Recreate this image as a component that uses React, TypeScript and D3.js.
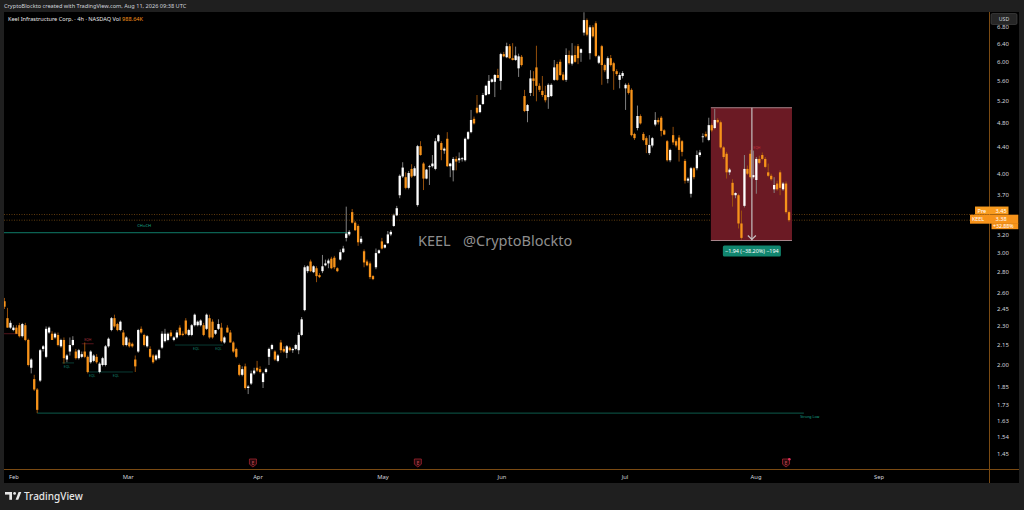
import React from 'react';
import * as d3 from 'd3';

// ---- Data (4h candles, KEEL) ----
const opens = [
  2.52,2.37,2.29,2.27,2.29,2.31,2.22,2.31,2.19,1.98,1.90,1.83,1.89,2.12,2.06,2.25,2.24,2.21,2.23,2.14,
  2.19,2.04,2.10,2.15,2.10,2.05,2.06,2.10,2.06,2.02,2.03,2.06,1.95,2.00,2.00,2.14,2.27,2.37,2.32,2.27,
  2.25,2.15,2.17,2.16,2.04,2.10,2.28,2.23,2.14,2.12,2.07,2.04,2.05,2.13,2.18,2.19,2.25,2.19,2.21,2.29,
  2.24,2.35,2.23,2.23,2.31,2.31,2.31,2.31,2.28,2.37,2.34,2.24,2.28,2.29,2.17,2.29,2.25,2.17,2.12,2.00,
  1.93,1.99,1.84,
  1.87,1.94,1.98,1.97,1.88,1.95,2.06,2.12,2.10,2.03,2.17,2.12,2.09,2.13,2.11,2.12,2.11,2.23,2.44,2.81,
  2.91,2.80,2.84,2.77,2.81,2.87,2.89,2.94,2.95,2.84,2.93,3.01,3.17,3.21,3.48,3.35,3.31,3.12,3.02,2.91,
  2.89,2.76,2.85,3.00,3.13,3.06,3.11,3.21,3.31,3.44,
  3.70,3.96,3.95,3.80,4.07,3.97,3.57,4.42,4.15,3.93,4.10,4.11,4.07,4.50,4.47,4.35,4.54,4.11,4.05,4.22,
  4.20,4.22,4.20,4.54,4.65,4.88,5.08,5.00,5.15,5.32,5.34,5.58,5.58,5.72,5.60,6.17,6.10,6.35,6.08,6.04,
  5.86,6.11,5.30,5.02,5.36,5.65,5.88,5.50,5.40,5.32,5.28,5.30,5.62,5.95,
  6.00,5.73,5.62,6.15,5.96,6.15,6.35,6.20,6.67,6.98,6.19,6.80,6.90,5.98,6.35,5.93,5.64,6.08,5.97,5.80,
  5.62,5.70,5.45,5.52,5.42,4.62,4.72,4.93,4.62,4.55,4.31,4.43,4.78,4.86,4.90,4.68,4.50,4.20,4.60,4.50,
  4.56,4.50,4.19,3.90,3.72,4.08,4.08,4.28,4.57,4.62,4.52,4.77,4.72,4.86,
  4.82,4.40,4.30,4.02,3.87,3.70,3.70,3.34,3.56,4.07,4.30,3.95,3.91,4.22,4.28,4.22,4.02,3.97,3.78,3.86,
  4.02,3.78,3.86,3.48,
];
const highs = [
  2.55,2.46,2.35,2.31,2.31,2.33,2.33,2.33,2.20,2.05,1.93,1.84,2.12,2.15,2.30,2.30,2.26,2.25,2.25,2.20,
  2.21,2.08,2.21,2.22,2.12,2.12,2.10,2.17,2.07,2.11,2.08,2.08,2.02,2.06,2.15,2.21,2.38,2.40,2.33,2.35,
  2.27,2.22,2.20,2.17,2.07,2.28,2.30,2.24,2.23,2.14,2.08,2.08,2.12,2.26,2.28,2.25,2.27,2.22,2.27,2.31,
  2.26,2.37,2.28,2.32,2.41,2.35,2.36,2.33,2.41,2.40,2.36,2.27,2.36,2.33,2.22,2.31,2.27,2.18,2.13,2.01,
  1.99,2.01,1.86,
  1.96,1.98,2.03,1.99,1.95,1.98,2.13,2.16,2.11,2.08,2.19,2.14,2.15,2.14,2.13,2.16,2.25,2.38,2.87,2.87,
  2.93,2.87,2.86,2.79,2.98,2.93,2.94,2.96,2.97,2.85,3.04,3.08,3.55,3.26,3.52,3.37,3.33,3.19,3.04,2.93,
  2.91,2.77,3.05,3.04,3.17,3.10,3.25,3.26,3.46,3.56,
  3.99,4.17,4.02,4.04,4.14,4.11,4.44,4.50,4.17,4.07,4.13,4.28,4.55,4.62,4.50,4.40,4.65,4.16,4.25,4.26,
  4.32,4.25,4.56,4.67,5.04,4.92,5.32,5.15,5.36,5.52,5.72,5.65,5.74,5.85,6.20,6.22,6.43,6.40,6.42,6.34,
  6.18,6.15,5.42,5.15,5.82,5.80,6.36,5.55,5.70,5.50,5.55,5.55,6.04,6.00,
  6.05,5.78,6.30,6.25,6.42,6.36,6.40,6.30,7.18,7.02,6.85,6.85,6.95,6.15,6.38,5.96,6.12,6.15,6.00,5.84,
  5.77,5.80,5.55,5.56,5.45,4.64,5.12,4.96,4.65,4.58,4.60,4.57,5.00,4.90,4.93,4.70,4.52,4.38,4.74,4.53,
  4.60,4.52,4.22,3.95,4.10,4.10,4.35,4.36,4.63,4.66,4.90,4.80,5.06,4.89,
  4.85,4.42,4.33,4.08,3.92,3.74,3.72,3.50,4.28,4.12,4.36,4.35,4.25,4.27,4.32,4.25,4.15,4.00,3.95,3.90,
  4.05,3.88,3.89,3.50,
];
const lows = [
  2.45,2.29,2.28,2.26,2.24,2.21,2.21,2.18,1.99,1.94,1.82,1.68,1.88,2.10,2.05,2.24,2.19,2.20,2.14,2.13,
  2.01,2.02,2.07,2.14,2.04,2.04,2.05,2.05,1.94,2.01,2.02,2.01,1.94,1.99,1.99,2.13,2.26,2.29,2.26,2.26,
  2.14,2.14,2.13,2.13,1.95,2.09,2.24,2.14,2.13,2.05,2.01,2.03,2.04,2.12,2.17,2.18,2.21,2.18,2.20,2.22,
  2.22,2.23,2.22,2.22,2.30,2.30,2.30,2.22,2.27,2.20,2.20,2.23,2.27,2.17,2.16,2.25,2.17,2.09,2.05,1.92,
  1.92,1.83,1.80,
  1.86,1.93,1.95,1.94,1.84,1.94,2.00,2.11,2.03,2.02,2.09,2.09,2.05,2.10,2.09,2.11,2.08,2.22,2.43,2.79,
  2.80,2.79,2.70,2.74,2.79,2.86,2.84,2.83,2.83,2.80,2.92,3.00,3.13,3.19,3.34,3.25,3.08,3.10,2.85,2.86,
  2.73,2.72,2.83,2.99,3.04,3.05,3.10,3.19,3.30,3.43,
  3.66,3.94,3.78,3.78,3.94,3.96,3.55,4.27,3.77,3.92,3.84,4.09,4.05,4.48,4.20,4.30,4.10,3.95,3.89,4.05,
  4.16,4.18,4.18,4.52,4.63,4.78,4.97,4.98,5.13,5.30,5.32,5.56,5.28,5.66,5.42,6.10,6.08,6.06,6.03,6.02,
  5.68,5.90,5.00,4.82,5.30,5.30,5.20,5.38,5.28,5.18,5.06,5.28,5.60,5.60,
  5.70,5.60,5.58,5.94,5.92,5.98,5.95,6.00,6.60,6.58,6.05,6.55,6.10,5.95,5.52,5.78,5.55,5.90,5.42,5.70,
  5.45,5.65,5.04,5.33,4.58,4.52,4.68,4.78,4.50,4.31,4.28,4.40,4.75,4.78,4.58,4.60,4.18,4.17,4.44,4.40,
  4.18,4.26,3.86,3.87,3.67,3.92,4.05,4.25,4.48,4.56,4.50,4.65,4.70,4.80,
  4.38,4.22,3.93,3.98,3.55,3.66,3.28,3.15,3.54,3.98,3.93,3.93,3.72,4.14,4.20,4.08,3.95,3.90,3.73,3.76,
  3.70,3.76,3.46,3.36,
];
const closes = [
  2.47,2.29,2.33,2.29,2.24,2.22,2.32,2.19,2.00,2.04,1.83,1.70,2.11,2.14,2.28,2.29,2.19,2.24,2.15,2.19,
  2.05,2.07,2.15,2.19,2.05,2.11,2.08,2.06,1.95,2.10,2.07,2.02,2.01,2.05,2.14,2.20,2.37,2.30,2.27,2.34,
  2.15,2.21,2.14,2.14,1.99,2.27,2.25,2.15,2.22,2.06,2.02,2.07,2.11,2.24,2.24,2.24,2.22,2.21,2.25,2.23,
  2.23,2.24,2.27,2.31,2.40,2.34,2.35,2.23,2.40,2.21,2.21,2.27,2.32,2.18,2.21,2.25,2.17,2.10,2.06,1.93,
  1.97,1.84,1.85,
  1.94,1.96,1.96,1.95,1.94,1.97,2.12,2.15,2.04,2.07,2.11,2.10,2.14,2.11,2.12,2.15,2.23,2.36,2.85,2.86,
  2.81,2.86,2.76,2.75,2.86,2.89,2.92,2.84,2.85,2.81,3.01,3.05,3.22,3.24,3.35,3.26,3.12,3.16,2.90,2.87,
  2.75,2.73,3.00,3.03,3.05,3.09,3.21,3.24,3.44,3.53,
  3.97,4.09,3.80,4.01,3.96,4.08,4.42,4.28,3.93,4.06,4.11,4.15,4.50,4.60,4.36,4.38,4.11,4.15,4.22,4.18,
  4.23,4.23,4.54,4.65,4.86,4.80,4.99,5.13,5.32,5.50,5.60,5.63,5.72,5.66,6.17,6.12,6.35,6.08,6.04,6.14,
  6.12,5.93,5.02,5.13,5.65,5.60,5.50,5.42,5.32,5.22,5.52,5.52,5.88,5.62,
  5.72,5.62,6.15,5.97,6.14,6.00,6.08,6.28,6.98,6.62,6.80,6.58,6.13,6.12,5.93,5.82,6.08,5.93,5.80,5.74,
  5.72,5.76,5.52,5.36,4.60,4.55,4.93,4.80,4.52,4.44,4.44,4.55,4.86,4.82,4.67,4.61,4.20,4.36,4.48,4.43,
  4.36,4.33,3.90,3.93,4.08,3.95,4.28,4.32,4.58,4.58,4.77,4.68,4.86,4.82,
  4.40,4.25,4.02,4.06,3.70,3.73,3.34,3.17,4.07,4.00,3.95,3.98,4.22,4.16,4.22,4.10,3.97,3.92,3.84,3.78,
  3.80,3.86,3.48,3.38,
];

const priceTicks = [6.8, 6.4, 6.0, 5.6, 5.2, 4.8, 4.4, 4.0, 3.7, 3.2, 3.0, 2.8, 2.6, 2.45, 2.3, 2.15, 2.0, 1.85, 1.73, 1.63, 1.54, 1.45];
const monthLabels = ['Feb', 'Mar', 'Apr', 'May', 'Jun', 'Jul', 'Aug', 'Sep'];
const monthBarIndex = [3.2, 41.6, 85.3, 127.4, 167.4, 208.8, 252.9, 294.3];
const earningsBarIndex = [83.6, 139.1, 263];

const prePrice = 3.45;
const lastPrice = 3.38;
const lastChange = '+32.88%';
const chochPrice = 3.23;
const chochRange = [-1, 116];
const strongLowPrice = 1.68;
const strongLowRange = [11, 269];
const eqlLevels = [
  { price: 2.015, from: 19.4, to: 23.4, labels: [21] },
  { price: 1.95, from: 27.8, to: 43.2, labels: [29.5, 37.5] },
  { price: 2.15, from: 57.4, to: 73.5, labels: [64.5, 72] },
];
const eqhLevels = [
  { price: 2.16, from: 26, to: 30, label: 28 },
  { price: 2.24, from: -1, to: 5, label: null as number | null },
];
const measureFrom = 5.08;
const measureTo = 3.14;
const measureBars = [237.7, 265];
const measureMid = 251.5;
const measureText = '\u22121.94 (\u221238.20%) \u2212194';

// ---- Layout ----
const W = 1024;
const H = 510;
const PL = 4, PR = 989, PT = 12, PB = 469;
const FONT = "'Noto Sans', 'DejaVu Sans', sans-serif";
const ORANGE = '#f7931a';
const AXIS = '#7a4a12';
const TEXT = '#d1d4dc';
const TEAL = '#0f7a68';

export default function App() {
  const x = d3.scaleLinear().domain([-0.17, 331.3]).range([PL, PR]);
  const y = d3.scaleLog().domain([1.372, 7.187]).range([PB, PT]);

  const mx0 = x(measureBars[0]);
  const mx1 = x(measureBars[1]);
  const my0 = y(measureFrom);
  const my1 = y(measureTo);
  const mmid = x(measureMid);

  return (
    <svg width={W} height={H} style={{ position: 'absolute', left: 0, top: 0, display: 'block' }} fontFamily={FONT}>
      <defs>
        <clipPath id="plotClip">
          <rect x={PL} y={PT} width={PR - PL} height={PB - PT} />
        </clipPath>
      </defs>
      {/* backgrounds */}
      <rect x={0} y={0} width={W} height={H} fill="#1f1f1f" />
      <rect x={PL} y={PT} width={1019 - PL} height={483 - PT} fill="#000000" />

      {/* header */}
      <text x={4} y={8} fontSize={5.6} fill={TEXT}>CryptoBlockto created with TradingView.com, Aug 11, 2026 09:38 UTC</text>
      <text x={8} y={20.5} fontSize={5.6} fill="#e8e8e8">
        Keel Infrastructure Corp. · 4h · NASDAQ  Vol <tspan fill={ORANGE}>988.64K</tspan>
      </text>

      <g clipPath="url(#plotClip)">
        {/* watermark */}
        <text x={418} y={246} fontSize={14.5} fill="#8e8e8e">KEEL</text>
        <text x={463} y={246} fontSize={14.5} fill="#8e8e8e">@CryptoBlockto</text>

        {/* price lines */}
        <line x1={PL} x2={PR} y1={y(prePrice)} y2={y(prePrice)} stroke="#5e3a0e" strokeWidth={1} strokeDasharray="1 1.5" />
        <line x1={PL} x2={PR} y1={y(lastPrice)} y2={y(lastPrice)} stroke="#5e3a0e" strokeWidth={1} strokeDasharray="1 1.5" />

        {/* SMC lines */}
        <line x1={x(chochRange[0])} x2={x(chochRange[1])} y1={y(chochPrice)} y2={y(chochPrice)} stroke={TEAL} strokeWidth={1} />
        <text x={x(47)} y={y(chochPrice) - 6} fontSize={4.2} fill="#17a58a" textAnchor="middle">CHoCH</text>
        <line x1={x(strongLowRange[0])} x2={x(strongLowRange[1])} y1={y(strongLowPrice)} y2={y(strongLowPrice)} stroke="#0d5a4c" strokeWidth={1} />
        <text x={x(271)} y={y(strongLowPrice) + 5} fontSize={3.6} fill="#17a58a" textAnchor="middle">Strong Low</text>
        {eqlLevels.map((l, k) => (
          <g key={'eql' + k}>
            <line x1={x(l.from)} x2={x(l.to)} y1={y(l.price)} y2={y(l.price)} stroke="#0b4a40" strokeWidth={0.8} />
            {l.labels.map((li, j) => (
              <text key={j} x={x(li)} y={y(l.price) + 5} fontSize={3.4} fill="#12806c" textAnchor="middle">EQL</text>
            ))}
          </g>
        ))}
        {eqhLevels.map((l, k) => (
          <g key={'eqh' + k}>
            <line x1={x(l.from)} x2={x(l.to)} y1={y(l.price)} y2={y(l.price)} stroke="#6a1a22" strokeWidth={0.8} />
            {l.label !== null && (
              <text x={x(l.label)} y={y(l.price) - 3} fontSize={3.4} fill="#a8323c" textAnchor="middle">EQH</text>
            )}
          </g>
        ))}

        {/* measurement box (behind candles) */}
        <rect x={mx0} y={my0} width={mx1 - mx0} height={my1 - my0} fill="#6b1a24" />
        <line x1={mx0} x2={mx1} y1={my0} y2={my0} stroke="#a8848a" strokeWidth={1} />
        <line x1={mx0} x2={mx1} y1={my1} y2={my1} stroke="#a8848a" strokeWidth={1} />

        {/* candles */}
        {opens.map((o, i) => {
          const c = closes[i];
          const up = c >= o;
          const cx = x(i);
          const yt = y(Math.max(o, c));
          const yb = y(Math.min(o, c));
          return (
            <g key={i}>
              <line x1={cx} x2={cx} y1={y(highs[i])} y2={y(lows[i])} stroke={up ? '#8d8d8d' : '#a4570c'} strokeWidth={0.9} />
              <rect x={cx - 1.15} y={yt} width={2.3} height={Math.max(0.9, yb - yt)} fill={up ? '#ffffff' : ORANGE} />
            </g>
          );
        })}

        {/* measurement vertical + arrow + small label */}
        <line x1={mmid} x2={mmid} y1={my0} y2={my1} stroke="#b9a9ab" strokeWidth={1.4} />
        <path d={`M${mmid - 4},${my1 - 5} L${mmid},${my1 - 1} L${mmid + 4},${my1 - 5}`} fill="none" stroke="#c9bfc0" strokeWidth={1.2} />
        <text x={mmid + 5} y={y(4.38)} fontSize={3.4} fill="#c0303c" textAnchor="middle">EQH</text>
      </g>

      {/* measurement label */}
      <rect x={mmid - 29} y={my1 + 5} width={58} height={11} rx={1.5} fill="#11866f" />
      <text x={mmid} y={my1 + 12.5} fontSize={5.4} fill="#ffffff" textAnchor="middle">{measureText}</text>

      {/* axes lines */}
      <line x1={PR + 0.5} x2={PR + 0.5} y1={PT} y2={483} stroke={AXIS} strokeWidth={1} />
      <line x1={PL} x2={1019} y1={PB + 0.5} y2={PB + 0.5} stroke={AXIS} strokeWidth={1} />

      {/* y tick labels */}
      {priceTicks.map((p) => (
        <text key={p} x={997} y={y(p) + 2} fontSize={6} fill={TEXT}>{p.toFixed(2)}</text>
      ))}
      {/* USD box */}
      <rect x={991} y={13.5} width={26} height={11} rx={1.5} fill="#262626" stroke="#4a4a4a" strokeWidth={0.6} />
      <text x={1004} y={21} fontSize={5.2} fill={TEXT} textAnchor="middle">USD</text>

      {/* price labels */}
      <rect x={975} y={y(prePrice) - 8} width={33.5} height={8} fill="#f89b1e" />
      <text x={977.5} y={y(prePrice) - 2} fontSize={5.6} fill="#ffffff">Pre</text>
      <text x={995.5} y={y(prePrice) - 2} fontSize={5.6} fill="#ffffff">{prePrice.toFixed(2)}</text>
      <rect x={970} y={y(lastPrice) - 5.5} width={48.3} height={9} fill={ORANGE} />
      <rect x={991.5} y={y(lastPrice) + 3} width={26.8} height={6} fill={ORANGE} />
      <text x={972} y={y(lastPrice) + 1.2} fontSize={5.4} fill="#ffffff">KEEL</text>
      <text x={995.5} y={y(lastPrice) + 1.2} fontSize={5.6} fill="#ffffff">{lastPrice.toFixed(2)}</text>
      <text x={993} y={y(lastPrice) + 7.6} fontSize={5.2} fill="#ffffff">{lastChange}</text>

      {/* earnings markers */}
      {earningsBarIndex.map((b, k) => {
        const cx = x(b);
        return (
          <g key={'e' + k}>
            <path d={`M${cx - 3.5},459 h7 v5.2 l-3.5,2.8 l-3.5,-2.8 z`} fill="#2a0a0e" stroke="#a3232e" strokeWidth={0.8} />
            <text x={cx} y={465} fontSize={4.4} fill="#d8505a" textAnchor="middle">E</text>
            {k === earningsBarIndex.length - 1 && <circle cx={cx + 3.3} cy={459.3} r={1.3} fill="#e0305a" />}
          </g>
        );
      })}

      {/* month labels */}
      {monthLabels.map((m, k) => (
        <text key={m} x={x(monthBarIndex[k])} y={478.5} fontSize={5.8} fill={TEXT} textAnchor="middle">{m}</text>
      ))}

      {/* footer logo */}
      <g fill="#e6e6e6">
        <rect x={5} y={492} width={7} height={2.6} />
        <rect x={9.3} y={492} width={2.7} height={7.8} />
        <circle cx={14.6} cy={493.4} r={1.4} />
        <polygon points="15.6,499.8 18.6,492 21.3,492 18.3,499.8" />
        <text x={24} y={499.8} fontSize={10} fontWeight={500}>TradingView</text>
      </g>
    </svg>
  );
}
